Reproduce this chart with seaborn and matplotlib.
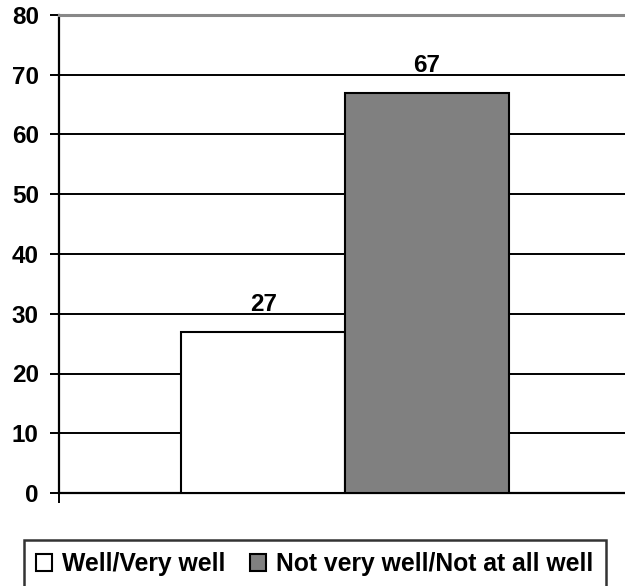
import matplotlib
matplotlib.use("Agg")
import matplotlib.pyplot as plt
import seaborn as sns
import pandas as pd
from matplotlib.patches import Patch

categories = ["Well/Very well", "Not very well/Not at all well"]
values = [27, 67]
colors = ["#ffffff", "#808080"]
yticks = [0, 10, 20, 30, 40, 50, 60, 70, 80]

sns.set_theme(style="white")
plt.rcParams['font.family'] = ['Liberation Sans', 'DejaVu Sans']
plt.rcParams['font.weight'] = 'bold'
plt.rcParams['text.color'] = 'black'
plt.rcParams['ytick.color'] = 'black'
plt.rcParams['xtick.color'] = 'black'
plt.rcParams['axes.labelcolor'] = 'black'

FS = 17.5
LFS = 17.8

df = pd.DataFrame({"group": ["g", "g"], "answer": categories, "pct": values})

fig = plt.figure(figsize=(6.25, 5.86), dpi=100)
ax = fig.add_axes([59/625, 1 - 493/586, 1 - 59/625, (493 - 15)/586])

sns.barplot(data=df, x="group", y="pct", hue="answer", hue_order=categories,
            palette=colors, width=0.578, edgecolor="black", linewidth=1.5,
            ax=ax, legend=False, zorder=3)

ax.set_ylim(0, 80)
ax.set_xlim(-0.5053, 0.4947)
ax.set_yticks(yticks)
ax.set_yticklabels([str(t) for t in yticks], fontsize=FS, fontweight='bold', color='black')
ax.set_xticks([-0.5053])
ax.set_xticklabels([""])
ax.set_xlabel("")
ax.set_ylabel("")

for t in yticks[1:-1]:
    ax.axhline(t, color="black", lw=1.4, zorder=1)

ax.tick_params(axis='y', direction='out', length=6.5, width=1.4, color='black', left=True, pad=8)
ax.tick_params(axis='x', direction='out', length=7, width=1.4, color='black', bottom=True)

for side in ["left", "bottom"]:
    ax.spines[side].set_color("black")
    ax.spines[side].set_linewidth(1.6)
ax.spines["right"].set_visible(False)
ax.spines["top"].set_color("#888888")
ax.spines["top"].set_linewidth(2.2)

for cont in ax.containers:
    ax.bar_label(cont, labels=[str(int(v)) for v in cont.datavalues],
                 padding=11, fontsize=FS, fontweight='bold', color='black', zorder=4)

handles = [Patch(facecolor=c, edgecolor="black", linewidth=1.5) for c in colors]
leg = fig.legend(handles, categories, loc="upper left", ncol=2,
                 bbox_to_anchor=(24/625, 1 - 540/586),
                 frameon=True, fancybox=False, edgecolor="black",
                 handlelength=0.65, handleheight=0.65, handletextpad=0.4,
                 columnspacing=1.0, borderpad=0.5, borderaxespad=0,
                 prop={'size': LFS, 'weight': 'bold'})
leg.get_frame().set_linewidth(1.8)
for txt in leg.get_texts():
    txt.set_color('black')

fig.savefig("out.png", dpi=100)
